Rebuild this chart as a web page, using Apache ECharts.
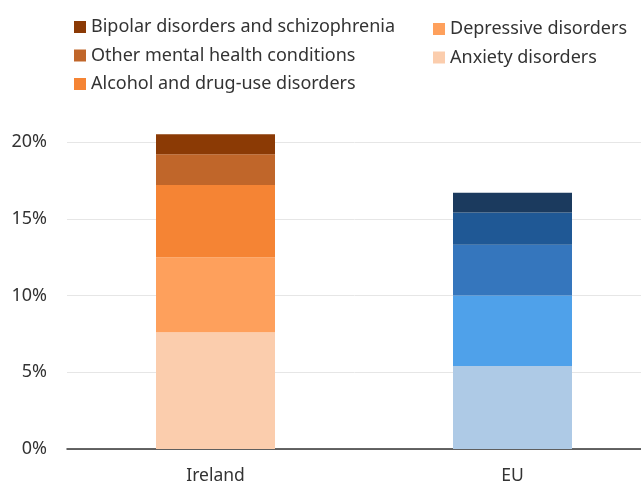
<!DOCTYPE html>
<html>
<head>
<meta charset="utf-8">
<script src="https://cdn.jsdelivr.net/npm/echarts@6/dist/echarts.min.js"></script>
<style>
  html, body { margin: 0; padding: 0; background: #fff; }
  #chart { width: 641px; height: 484px; }
</style>
</head>
<body>
<div id="chart"></div>
<script>
// Share of population with a mental health condition, by type (%)
const categories = ['Ireland', 'EU'];
const seriesNames = [
  'Anxiety disorders',
  'Depressive disorders',
  'Alcohol and drug-use disorders',
  'Other mental health conditions',
  'Bipolar disorders and schizophrenia'
];
const anxiety = [7.6, 5.4];
const depressive = [4.9, 4.6];
const alcoholDrug = [4.7, 3.3];
const otherConditions = [2.0, 2.1];
const bipolarSchizo = [1.3, 1.3];
const yTicks = [0, 5, 10, 15, 20];

const irelandColors = ['#FBCDAD', '#FEA05C', '#F58434', '#C0662A', '#8B3A05'];
const euColors = ['#AECAE6', '#4FA1EA', '#3576BD', '#1F5895', '#1B3A5E'];
const values = [anxiety, depressive, alcoholDrug, otherConditions, bipolarSchizo];

const FONT = 'Noto Sans';

const series = seriesNames.map((name, i) => ({
  name: name,
  type: 'bar',
  stack: 'total',
  barWidth: 119,
  clip: false,
  itemStyle: { color: irelandColors[i] },
  emphasis: { disabled: true },
  data: values[i].map((v, j) => ({
    value: v,
    itemStyle: { color: j === 0 ? irelandColors[i] : euColors[i] }
  }))
}));

const legendText = { fontFamily: FONT, fontSize: 18, color: '#333', lineHeight: 18 };

const chart = echarts.init(document.getElementById('chart'), null, { renderer: 'canvas' });
chart.setOption({
  animation: false,
  legend: [
    {
      orient: 'vertical', left: 74, top: 18, padding: 0,
      itemWidth: 12, itemHeight: 12, itemGap: 10.5, itemTextGap: 5,
      icon: 'rect', textStyle: legendText,
      data: [seriesNames[4], seriesNames[3], seriesNames[2]],
      selectedMode: false
    },
    {
      orient: 'vertical', left: 433, top: 20, padding: 0,
      itemWidth: 12, itemHeight: 12, itemGap: 10.5, itemTextGap: 5,
      icon: 'rect', textStyle: legendText,
      data: [seriesNames[1], seriesNames[0]],
      selectedMode: false
    }
  ],
  grid: {
    left: 67, width: 594, top: 142, bottom: 35,
    containLabel: false, outerBoundsMode: 'none'
  },
  xAxis: {
    type: 'category',
    data: categories,
    axisLine: { lineStyle: { color: '#333', width: 1.5 } },
    axisTick: { show: false },
    axisLabel: { fontFamily: FONT, fontSize: 17.5, color: '#333', margin: 18 }
  },
  yAxis: {
    type: 'value',
    min: yTicks[0], max: yTicks[yTicks.length - 1], interval: 5,
    axisLine: { show: false },
    axisTick: { show: false },
    splitLine: { lineStyle: { color: '#e6e6e6', width: 1 } },
    axisLabel: {
      fontFamily: FONT, fontSize: 18, color: '#333', margin: 20,
      formatter: v => v + '%'
    }
  },
  series: series
});
</script>
</body>
</html>
